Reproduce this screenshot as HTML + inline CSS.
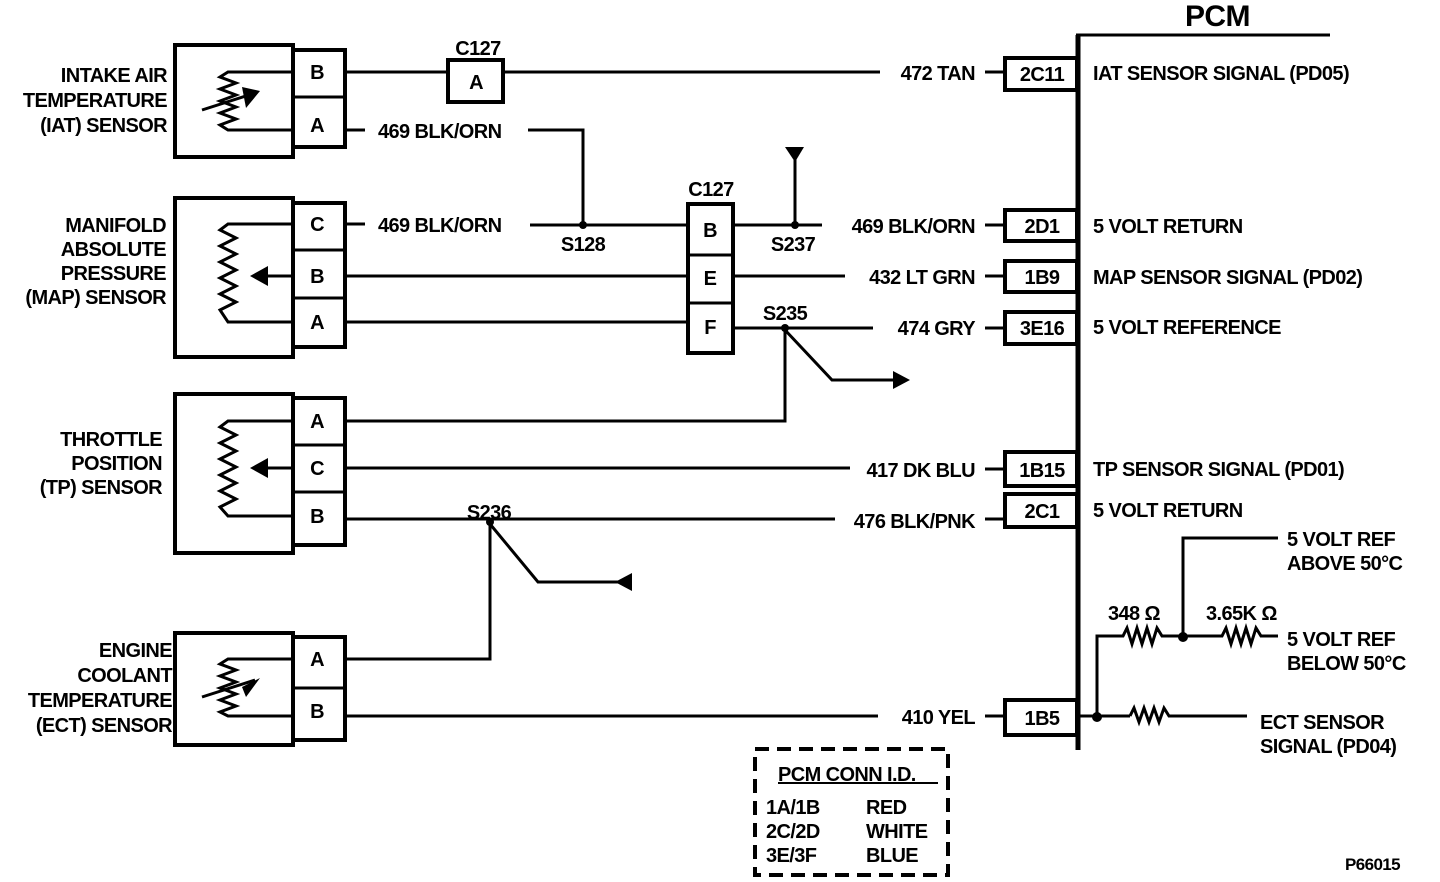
<!DOCTYPE html>
<html><head><style>html,body{margin:0;padding:0;background:#fff}svg{display:block}text{font-family:"Liberation Sans",Arial,sans-serif;font-size:20px;fill:#000;font-weight:bold;letter-spacing:-0.6px}</style></head><body>
<svg width="1440" height="882" viewBox="0 0 1440 882" xmlns="http://www.w3.org/2000/svg">
<g fill="none" stroke="#000" stroke-width="3">
<rect x="175" y="45" width="118" height="112" stroke-width="4"/>
<rect x="175" y="198" width="118" height="159" stroke-width="4"/>
<rect x="175" y="394" width="118" height="159" stroke-width="4"/>
<rect x="175" y="633" width="118" height="112" stroke-width="4"/>
<rect x="293" y="50" width="52" height="97" stroke-width="4"/><line x1="293" y1="97" x2="345" y2="97"/>
<rect x="293" y="203" width="52" height="144" stroke-width="4"/><line x1="293" y1="250" x2="345" y2="250"/><line x1="293" y1="298" x2="345" y2="298"/>
<rect x="293" y="398" width="52" height="147" stroke-width="4"/><line x1="293" y1="445" x2="345" y2="445"/><line x1="293" y1="492" x2="345" y2="492"/>
<rect x="293" y="637" width="52" height="103" stroke-width="4"/><line x1="293" y1="688" x2="345" y2="688"/>
<polyline points="293,72 228,72 220,77 236,83 220,89 236,95 220,101 236,107 220,113 236,119 220,125 228,130 293,130"/>
<line x1="202" y1="110" x2="255" y2="93"/>
<polyline points="293,224 228,224 220,230 236,238 220,246 236,254 220,262 236,270 220,278 236,286 220,294 236,302 220,310 228,322 293,322"/>
<line x1="262" y1="276" x2="293" y2="276"/>
<polyline points="293,421 228,421 220,427 236,435 220,443 236,451 220,459 236,467 220,475 236,483 220,491 236,499 220,507 228,516 293,516"/>
<line x1="262" y1="468" x2="293" y2="468"/>
<polyline points="293,659 228,659 220,664 236,670 220,676 236,682 220,688 236,694 220,700 236,706 220,712 228,716 293,716"/>
<line x1="202" y1="697" x2="255" y2="680"/>
<rect x="448" y="60" width="55" height="42" stroke-width="4"/>
<line x1="345" y1="72" x2="448" y2="72"/><line x1="503" y1="72" x2="880" y2="72"/><line x1="985" y1="72" x2="1005" y2="72"/>
<rect x="1005" y="58" width="72" height="32" stroke-width="4"/>
<line x1="345" y1="130" x2="365" y2="130"/><polyline points="528,130 583,130 583,225"/>
<line x1="345" y1="224" x2="365" y2="224"/><line x1="530" y1="225" x2="688" y2="225"/>
<rect x="688" y="204" width="45" height="149" stroke-width="4"/><line x1="688" y1="255" x2="733" y2="255"/><line x1="688" y1="303" x2="733" y2="303"/>
<line x1="733" y1="225" x2="822" y2="225"/><line x1="795" y1="225" x2="795" y2="150"/>
<line x1="985" y1="225" x2="1005" y2="225"/><rect x="1005" y="210" width="72" height="31" stroke-width="4"/>
<line x1="345" y1="276" x2="688" y2="276"/><line x1="733" y1="276" x2="845" y2="276"/><line x1="985" y1="276" x2="1005" y2="276"/>
<rect x="1005" y="261" width="72" height="31" stroke-width="4"/>
<line x1="345" y1="322" x2="688" y2="322"/><line x1="733" y1="328" x2="873" y2="328"/><line x1="985" y1="328" x2="1005" y2="328"/>
<rect x="1005" y="312" width="72" height="32" stroke-width="4"/>
<polyline points="785,328 785,421 345,421"/><polyline points="785,330 832,380 895,380"/>
<line x1="345" y1="468" x2="850" y2="468"/><line x1="985" y1="469" x2="1005" y2="469"/>
<rect x="1005" y="452" width="72" height="34" stroke-width="4"/>
<line x1="345" y1="519" x2="835" y2="519"/><line x1="985" y1="519" x2="1005" y2="519"/>
<rect x="1005" y="494" width="72" height="33" stroke-width="4"/>
<polyline points="490,522 490,659 345,659"/><polyline points="490,524 538,582 618,582"/>
<line x1="345" y1="716" x2="878" y2="716"/><line x1="985" y1="716" x2="1005" y2="716"/>
<rect x="1005" y="700" width="72" height="35" stroke-width="4"/>
<line x1="1078" y1="35" x2="1078" y2="750" stroke-width="5"/><line x1="1076" y1="35" x2="1330" y2="35"/>
<line x1="1080" y1="716" x2="1130" y2="716"/>
<polyline points="1130,716 1134,708 1139,722 1144,708 1149,722 1154,708 1159,722 1164,708 1169,716 1247,716"/>
<polyline points="1097,716 1097,636 1123,636 1127,628 1132,644 1137,628 1142,644 1147,628 1152,644 1157,628 1162,636 1222,636 1226,628 1231,644 1236,628 1241,644 1246,628 1251,644 1256,628 1261,636 1278,636"/>
<polyline points="1183,636 1183,538 1278,538"/>
<rect x="755" y="749" width="193" height="126" stroke-width="4" stroke-dasharray="14,8"/>
<line x1="778" y1="783" x2="938" y2="783" stroke-width="2"/>
</g>
<g fill="#000">
<circle cx="583" cy="225" r="4"/><circle cx="795" cy="225" r="4"/><circle cx="785" cy="328" r="4"/><circle cx="490" cy="522" r="4"/>
<circle cx="1097" cy="717" r="5"/><circle cx="1183" cy="637" r="5"/>
<polygon points="785,147 804,147 795,162"/>
<polygon points="893,371 910,380 893,389"/>
<polygon points="632,573 615,582 632,591"/>
<polygon points="242,87 260,91 246,108"/>
<polygon points="242,687 260,678 246,697"/>
<polygon points="250,276 268,266 268,286"/>
<polygon points="250,468 268,458 268,478"/>
</g>
<g>
<text x="167" y="82" text-anchor="end">INTAKE AIR</text>
<text x="167" y="107" text-anchor="end">TEMPERATURE</text>
<text x="167" y="132" text-anchor="end">(IAT) SENSOR</text>
<text x="166" y="232" text-anchor="end">MANIFOLD</text>
<text x="166" y="256" text-anchor="end">ABSOLUTE</text>
<text x="166" y="280" text-anchor="end">PRESSURE</text>
<text x="166" y="304" text-anchor="end">(MAP) SENSOR</text>
<text x="162" y="446" text-anchor="end">THROTTLE</text>
<text x="162" y="470" text-anchor="end">POSITION</text>
<text x="162" y="494" text-anchor="end">(TP) SENSOR</text>
<text x="172" y="657" text-anchor="end">ENGINE</text>
<text x="172" y="682" text-anchor="end">COOLANT</text>
<text x="172" y="707" text-anchor="end">TEMPERATURE</text>
<text x="172" y="732" text-anchor="end">(ECT) SENSOR</text>
<g text-anchor="middle">
<text x="317" y="79">B</text><text x="317" y="132">A</text>
<text x="317" y="231">C</text><text x="317" y="283">B</text><text x="317" y="329">A</text>
<text x="317" y="428">A</text><text x="317" y="475">C</text><text x="317" y="523">B</text>
<text x="317" y="666">A</text><text x="317" y="718">B</text>
<text x="476" y="89">A</text><text x="478" y="55">C127</text>
<text x="711" y="196">C127</text>
<text x="710" y="237">B</text><text x="710" y="285">E</text><text x="710" y="334">F</text>
<text x="583" y="251">S128</text><text x="793" y="251">S237</text>
<text x="785" y="320">S235</text><text x="489" y="519">S236</text>
<text x="1042" y="81">2C11</text><text x="1042" y="233">2D1</text><text x="1042" y="284">1B9</text>
<text x="1042" y="335">3E16</text><text x="1042" y="477">1B15</text><text x="1042" y="518">2C1</text>
<text x="1042" y="725">1B5</text>
</g>
<text x="378" y="138">469 BLK/ORN</text>
<text x="378" y="232">469 BLK/ORN</text>
<g text-anchor="end">
<text x="975" y="80">472 TAN</text>
<text x="975" y="233">469 BLK/ORN</text>
<text x="975" y="284">432 LT GRN</text>
<text x="975" y="335">474 GRY</text>
<text x="975" y="477">417 DK BLU</text>
<text x="975" y="528">476 BLK/PNK</text>
<text x="975" y="724">410 YEL</text>
</g>
<text x="1093" y="80">IAT SENSOR SIGNAL (PD05)</text>
<text x="1093" y="233">5 VOLT RETURN</text>
<text x="1093" y="284">MAP SENSOR SIGNAL (PD02)</text>
<text x="1093" y="334">5 VOLT REFERENCE</text>
<text x="1093" y="476">TP SENSOR SIGNAL (PD01)</text>
<text x="1093" y="517">5 VOLT RETURN</text>
<text x="1287" y="546">5 VOLT REF</text>
<text x="1287" y="570">ABOVE 50°C</text>
<text x="1287" y="646">5 VOLT REF</text>
<text x="1287" y="670">BELOW 50°C</text>
<text x="1260" y="729">ECT SENSOR</text>
<text x="1260" y="753">SIGNAL (PD04)</text>
<text x="1108" y="620">348 Ω</text>
<text x="1206" y="620">3.65K Ω</text>
<text x="1185" y="26" style="font-size:30px">PCM</text>
<text x="778" y="781">PCM CONN I.D.</text>
<text x="766" y="814">1A/1B</text><text x="866" y="814">RED</text>
<text x="766" y="838">2C/2D</text><text x="866" y="838">WHITE</text>
<text x="766" y="862">3E/3F</text><text x="866" y="862">BLUE</text>
<text x="1345" y="870" style="font-size:17px">P66015</text>
</g>
</svg>
</body></html>
